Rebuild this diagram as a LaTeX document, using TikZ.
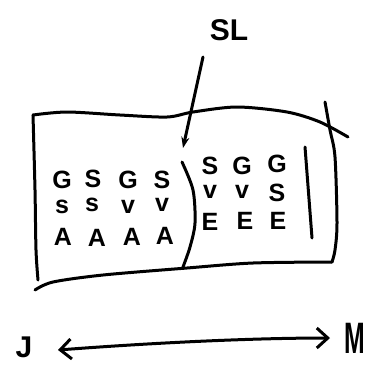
\documentclass[tikz,border=0pt]{standalone}
\usepackage{fontspec}
\setmainfont{Liberation Sans}
\usetikzlibrary{arrows.meta}
\begin{document}
\begin{tikzpicture}[x=1pt,y=-1pt,
  pen/.style={line width=3pt,line cap=round,line join=round},
  big/.style={font=\bfseries\fontsize{25}{25}\selectfont,inner sep=0pt},
  small/.style={font=\bfseries\fontsize{25}{25}\selectfont,inner sep=0pt},
  lab/.style={font=\bfseries\fontsize{30}{30}\selectfont,inner sep=0pt}]
\useasboundingbox (0,0) rectangle (366,365);
% box outline
\draw[pen] plot[smooth] coordinates {(33,115) (67,112) (120,115) (167,117) (193,112) (237,107) (287,112) (320,122) (348,137)};
\draw[pen] plot[smooth] coordinates {(33,115) (35,190) (36,250) (38,280)};
\draw[pen] plot[smooth] coordinates {(325,102) (330,130) (335,157) (337,223) (335,250) (332,262)};
\draw[pen] plot[smooth] coordinates {(35,290) (53,282) (103,275) (187,268) (253,263) (332,262)};
% inner divider bar
\draw[pen] (305,147) -- (312,238);
% parenthesis
\draw[pen] plot[smooth] coordinates {(182,162) (193,190) (195,223) (190,247) (183,267)};
% left letters
\node[big] (g1) at (62,180) {G};
\node[big] (s1) at (93,179) {S};
\node[big] (g2) at (128,180) {G};
\node[big] (s2) at (162,180) {S};
\node[small] (s3) at (62,207) {s};
\node[small] (s4) at (92,205) {s};
\node[small] (v1) at (128,207) {v};
\node[small] (v2) at (162,205) {v};
\node[big] (a1) at (63,237) {A};
\node[big] (a2) at (97,238) {A};
\node[big] (a3) at (132,237) {A};
\node[big] (a4) at (165,236) {A};
% right letters
\node[big] (s5) at (210,166) {S};
\node[big] (g3) at (242,166) {G};
\node[big] (g4) at (277,164) {G};
\node[small] (v3) at (210,192) {v};
\node[small] (v4) at (242,192) {v};
\node[big] (s6) at (277,193) {S};
\node[big] (e1) at (210,222) {E};
\node[big] (e2) at (245,221) {E};
\node[big] (e3) at (278,221) {E};
% SL label and arrow
\node[lab] (sl) at (229,30) {SL};
\coordinate (slstart) at (203,57);
\coordinate (sltip) at (183,148);
\draw[pen,-{Stealth[length=11pt,width=8pt]}] (slstart) -- (sltip);
% bottom scale
\node[font=\bfseries\fontsize{30}{30}\selectfont,inner sep=0pt] (jl) at (24,347) {J};
\node[font=\bfseries\fontsize{40}{40}\selectfont,inner sep=0pt,xscale=0.62,yscale=1.1,anchor=east] (ml) at (365,338) {M};
\coordinate (lt) at (58,350);
\coordinate (rt) at (330,338);
\draw[pen,{Straight Barb[length=11pt,width=20pt,line width=3pt]}-{Straight Barb[length=11pt,width=20pt,line width=3pt]}] (lt) .. controls (150,343) and (250,338) .. (rt);
\end{tikzpicture}
\end{document}
